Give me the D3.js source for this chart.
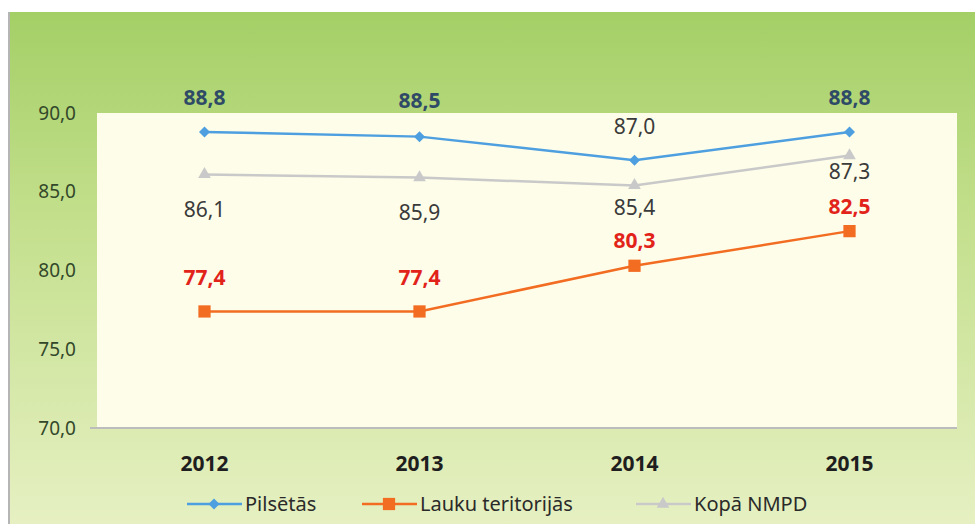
<!DOCTYPE html>
<html>
<head>
<meta charset="utf-8">
<script src="https://cdn.jsdelivr.net/npm/d3@7"></script>
<style>
  body { margin: 0; background: #fff; }
  svg text { font-family: "Noto Sans", "Open Sans", sans-serif; }
</style>
</head>
<body>
<svg id="chart" width="975" height="524"></svg>
<script>
// Chart data:
var years = ["2012", "2013", "2014", "2015"];
var pilsetas = [88.8, 88.5, 87.0, 88.8];
var lauku = [77.4, 77.4, 80.3, 82.5];
var kopa = [86.1, 85.9, 85.4, 87.3];
var yTicks = [70, 75, 80, 85, 90];
var seriesNames = ["Pilsētās", "Lauku teritorijās", "Kopā NMPD"];

var svg = d3.select("#chart");
var W = 975, H = 524;
var plot = { left: 97, top: 113, right: 957, bottom: 428 };

// The green background gradient:
var defs = svg.append("defs");
var bg = defs.append("linearGradient")
  .attr("id", "bg").attr("x1", 0).attr("y1", 0).attr("x2", 0).attr("y2", 1);
bg.append("stop").attr("offset", "0%").attr("stop-color", "#a4cf66");
bg.append("stop").attr("offset", "40%").attr("stop-color", "#c3df8c");
bg.append("stop").attr("offset", "100%").attr("stop-color", "#e6f0c2");

svg.append("rect").attr("x", 0).attr("y", 0).attr("width", W).attr("height", H).attr("fill", "#fff");
svg.append("rect").attr("x", 9).attr("y", 12).attr("width", W - 9).attr("height", H - 12)
  .attr("fill", "url(#bg)");
svg.append("line").attr("x1", 9).attr("x2", 9).attr("y1", 12).attr("y2", H)
  .attr("stroke", "#b5b5b5").attr("stroke-width", 2);

// Plot area:
svg.append("rect")
  .attr("x", plot.left).attr("y", plot.top)
  .attr("width", plot.right - plot.left).attr("height", plot.bottom - plot.top)
  .attr("fill", "#fefde9");

var x = d3.scalePoint().domain(years).range([plot.left, plot.right]).padding(0.5);
var y = d3.scaleLinear().domain([70, 90]).range([plot.bottom, plot.top]);

// Y axis labels:
svg.append("g").selectAll("text")
  .data(yTicks).enter().append("text")
  .attr("x", 76).attr("y", function(d) { return y(d); })
  .attr("dy", "0.35em")
  .attr("text-anchor", "end")
  .attr("font-size", 19)
  .attr("fill", "#33482a")
  .text(function(d) { return d.toFixed(1).replace(".", ","); });

// Bottom axis line:
svg.append("line")
  .attr("x1", plot.left - 7).attr("x2", plot.right)
  .attr("y1", plot.bottom).attr("y2", plot.bottom)
  .attr("stroke", "#bcbcbc").attr("stroke-width", 2);

// X axis labels:
svg.append("g").selectAll("text")
  .data(years).enter().append("text")
  .attr("x", function(d) { return x(d); })
  .attr("y", 464).attr("dy", "0.35em")
  .attr("text-anchor", "middle")
  .attr("font-size", 21).attr("font-weight", "bold")
  .attr("fill", "#1e1e1e")
  .text(function(d) { return d; });

var line = d3.line()
  .x(function(d, i) { return x(years[i]); })
  .y(function(d) { return y(d); });

var series = [
  { name: seriesNames[2], values: kopa, color: "#c9c9c9", marker: "triangle" },
  { name: seriesNames[1], values: lauku, color: "#f26c22", marker: "square" },
  { name: seriesNames[0], values: pilsetas, color: "#4d9fe0", marker: "diamond" }
];

function markerPath(kind) {
  if (kind == "square") return d3.symbol().type(d3.symbolSquare).size(150)();
  if (kind == "diamond") return "M0,-5.5L5.5,0L0,5.5L-5.5,0Z";
  return d3.symbol().type(d3.symbolTriangle).size(70)();
}

series.forEach(function(s) {
  svg.append("path")
    .datum(s.values)
    .attr("d", line)
    .attr("fill", "none")
    .attr("stroke", s.color)
    .attr("stroke-width", 2.5);
  svg.selectAll(null)
    .data(s.values).enter().append("path")
    .attr("d", markerPath(s.marker))
    .attr("transform", function(d, i) {
      return "translate(" + x(years[i]) + "," + y(d) + ")";
    })
    .attr("fill", s.color);
});

// Data labels (placement follows the picture):
function fmt(v) { return v.toFixed(1).replace(".", ","); }
function addLabels(values, offsets, style) {
  svg.append("g").selectAll("text")
    .data(values).enter().append("text")
    .attr("x", function(d, i) { return x(years[i]); })
    .attr("y", function(d, i) { return y(d) + offsets[i]; })
    .attr("dy", "0.35em")
    .attr("text-anchor", "middle")
    .attr("font-size", 21)
    .attr("font-weight", function(d, i) { return style(i).weight; })
    .attr("fill", function(d, i) { return style(i).color; })
    .text(fmt);
}

addLabels(pilsetas, [-34, -36, -34, -34], function(i) {
  return i == 2 ? { weight: "normal", color: "#3a3a3a" } : { weight: "bold", color: "#2e4a66" };
});
addLabels(kopa, [35, 35, 22, 16], function() {
  return { weight: "normal", color: "#3a3a3a" };
});
addLabels(lauku, [-34, -34, -25, -24], function() {
  return { weight: "bold", color: "#e2231a" };
});

// Legend:
var legendY = 504;
var legendItems = [
  { name: seriesNames[0], color: "#4d9fe0", marker: "diamond", x: 187 },
  { name: seriesNames[1], color: "#f26c22", marker: "square", x: 362 },
  { name: seriesNames[2], color: "#c9c9c9", marker: "triangle", x: 636 }
];
var lg = svg.append("g").selectAll("g")
  .data(legendItems).enter().append("g")
  .attr("transform", function(d) { return "translate(" + d.x + "," + legendY + ")"; });
lg.append("line")
  .attr("x1", 0).attr("x2", 55)
  .attr("stroke", function(d) { return d.color; })
  .attr("stroke-width", 2.5);
lg.append("path")
  .attr("d", function(d) { return markerPath(d.marker); })
  .attr("transform", "translate(27,0)")
  .attr("fill", function(d) { return d.color; });
lg.append("text")
  .attr("x", 58).attr("dy", "0.35em")
  .attr("font-size", 20)
  .attr("fill", "#2a2a2a")
  .text(function(d) { return d.name; });
</script>
</body>
</html>
